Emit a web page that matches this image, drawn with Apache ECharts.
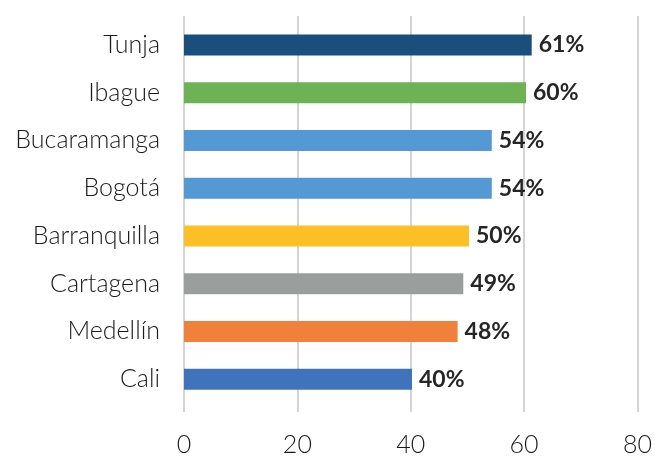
<!DOCTYPE html>
<html>
<head>
<meta charset="utf-8">
<script src="https://cdn.jsdelivr.net/npm/echarts@6/dist/echarts.min.js"></script>
<style>
  html, body { margin: 0; padding: 0; background: #fff; }
  #chart { width: 655px; height: 458px; }
</style>
</head>
<body>
<div id="chart"></div>
<script>
// datos (de abajo hacia arriba, como los pinta echarts)
var ciudades = ["Cali", "Medellín", "Cartagena", "Barranquilla", "Bogotá", "Bucaramanga", "Ibague", "Tunja"];
var valores = [40, 48, 49, 50, 54, 54, 60, 61];
var colores = ["#3f74bc", "#f0803a", "#9a9e9d", "#fdbf26", "#5499d3", "#5499d3", "#6db254", "#1a4e7d"];
var ticks = [0, 20, 40, 60, 80];

var myChart = echarts.init(document.getElementById("chart"));

var data = valores.map(function (v, i) {
  return { value: v, itemStyle: { color: colores[i] } };
});

myChart.setOption({
  animation: false,
  grid: [
    // rejilla (lineas verticales)
    { left: 184, right: 15, top: 16, bottom: 46 },
    // barras
    { left: 184, right: 15, top: 21, bottom: 55 }
  ],
  xAxis: [
    {
      type: "value",
      gridIndex: 0,
      min: ticks[0],
      max: ticks[ticks.length - 1],
      interval: 20,
      axisLine: { show: false },
      axisTick: { show: false },
      splitLine: { lineStyle: { color: "#d4d4d4", width: 2 } },
      axisLabel: {
        color: "#1a1a1a",
        fontSize: 25,
        fontFamily: "Lato",
        fontWeight: 300,
        margin: 20
      }
    },
    {
      type: "value",
      gridIndex: 1,
      min: ticks[0],
      max: ticks[ticks.length - 1],
      show: false
    }
  ],
  yAxis: [
    {
      type: "category",
      gridIndex: 0,
      data: ciudades,
      show: false
    },
    {
      type: "category",
      gridIndex: 1,
      data: ciudades,
      axisLine: { show: false },
      axisTick: { show: false },
      axisLabel: {
        color: "#1a1a1a",
        fontSize: 25,
        fontFamily: "Lato",
        fontWeight: 300,
        margin: 24
      }
    }
  ],
  series: [
    {
      type: "bar",
      xAxisIndex: 1,
      yAxisIndex: 1,
      barWidth: 21,
      data: data,
      label: {
        show: true,
        position: "right",
        distance: 7,
        formatter: "{c}%",
        color: "#262626",
        fontSize: 23,
        fontWeight: "bold",
        fontFamily: "Lato"
      }
    }
  ]
});
</script>
</body>
</html>
